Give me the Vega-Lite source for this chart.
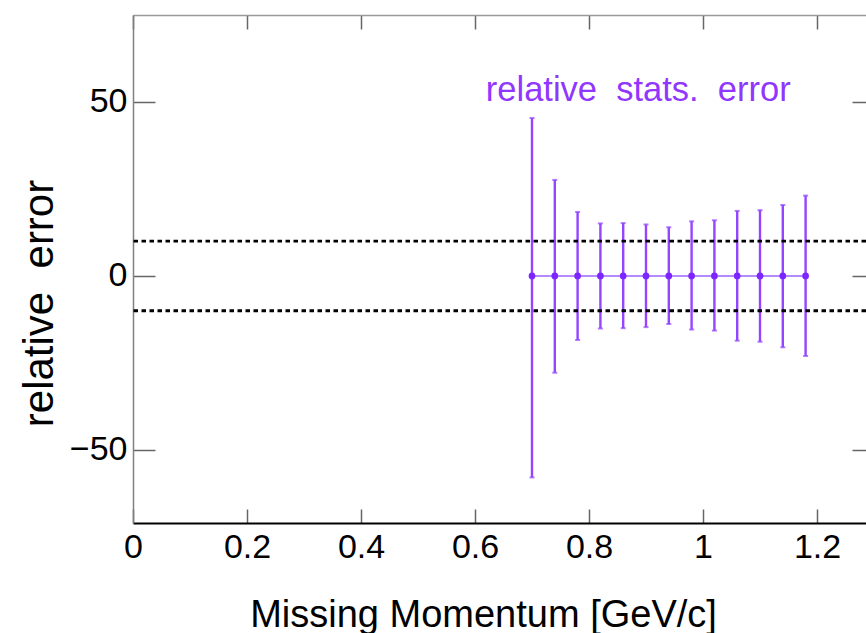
{
  "$schema": "https://vega.github.io/schema/vega-lite/v6.json",
  "width": 741,
  "height": 508,
  "autosize": {"type": "none"},
  "padding": {"left": 133, "top": 15, "right": 0, "bottom": 110},
  "background": "white",
  "config": {
    "view": {"stroke": null},
    "axis": {"grid": false, "labelFont": "Liberation Sans", "titleFont": "Liberation Sans", "labelColor": "black", "titleColor": "black", "titleFontWeight": "normal"}
  },
  "datasets": {
    "pts": [
      {"p": 0.70, "v": 0, "lo": -57.9, "hi": 45.4},
      {"p": 0.74, "v": 0, "lo": -27.8, "hi": 27.6},
      {"p": 0.78, "v": 0, "lo": -18.4, "hi": 18.4},
      {"p": 0.82, "v": 0, "lo": -15.1, "hi": 15.1},
      {"p": 0.86, "v": 0, "lo": -15.0, "hi": 15.2},
      {"p": 0.90, "v": 0, "lo": -14.7, "hi": 14.8},
      {"p": 0.94, "v": 0, "lo": -13.8, "hi": 14.0},
      {"p": 0.98, "v": 0, "lo": -15.4, "hi": 15.7},
      {"p": 1.02, "v": 0, "lo": -15.7, "hi": 16.0},
      {"p": 1.06, "v": 0, "lo": -18.6, "hi": 18.7},
      {"p": 1.10, "v": 0, "lo": -18.9, "hi": 18.9},
      {"p": 1.14, "v": 0, "lo": -20.5, "hi": 20.4},
      {"p": 1.18, "v": 0, "lo": -23.0, "hi": 23.1}
    ],
    "lims": [{"y": 10}, {"y": -10}],
    "lbl": [{"x": 0.619, "y": 50.3, "t": "relative\u00a0 stats.\u00a0 error"}]
  },
  "resolve": {"axis": {"x": "independent", "y": "independent"}},
  "layer": [
    {
      "data": {"name": "pts"},
      "mark": {"type": "line", "color": "#b48aff", "strokeWidth": 2},
      "encoding": {
        "x": {"field": "p", "type": "quantitative", "scale": {"domain": [0, 1.3], "nice": false, "zero": false}, "axis": null},
        "y": {"field": "v", "type": "quantitative", "scale": {"domain": [-71, 75], "nice": false, "zero": false}, "axis": null}
      }
    },
    {
      "data": {"name": "pts"},
      "mark": {"type": "rule", "color": "#9445ff", "strokeWidth": 2.4},
      "encoding": {
        "x": {"field": "p", "type": "quantitative", "scale": {"domain": [0, 1.3], "nice": false, "zero": false},
          "axis": {"orient": "bottom", "values": [0, 0.2, 0.4, 0.6, 0.8, 1, 1.2], "labelExpr": "'' + datum.value", "labelFlush": false, "labelFontSize": 34, "labelPadding": 21, "tickSize": -14, "tickColor": "#666666", "tickWidth": 1.5, "domainColor": "black", "domainWidth": 2, "title": "Missing Momentum [GeV/c]", "titleFontSize": 38, "titleX": 350, "titleY": 103, "titleBaseline": "alphabetic", "titleAnchor": null, "titleAlign": "center"}},
        "y": {"field": "lo", "type": "quantitative", "scale": {"domain": [-71, 75], "nice": false, "zero": false},
          "axis": {"orient": "left", "values": [-50, 0, 50], "labelExpr": "datum.value < 0 ? '\u2212' + abs(datum.value) : '' + datum.value", "labelFlush": false, "labelFontSize": 34, "labelPadding": 28, "tickSize": -22, "tickColor": "#666666", "tickWidth": 1.5, "domainColor": "#808080", "domainWidth": 1.5, "title": "relative\u00a0 error", "titleFontSize": 42, "titleAngle": -90, "titleX": -81, "titleY": 288, "titleBaseline": "alphabetic", "titleAlign": "center"}},
        "y2": {"field": "hi"}
      }
    },
    {
      "data": {"name": "pts"},
      "mark": {"type": "tick", "orient": "horizontal", "color": "#9445ff", "size": 5, "thickness": 2},
      "encoding": {
        "x": {"field": "p", "type": "quantitative", "scale": {"domain": [0, 1.3], "nice": false, "zero": false}, "axis": null},
        "y": {"field": "lo", "type": "quantitative", "scale": {"domain": [-71, 75], "nice": false, "zero": false}, "axis": null}
      }
    },
    {
      "data": {"name": "pts"},
      "mark": {"type": "tick", "orient": "horizontal", "color": "#9445ff", "size": 5, "thickness": 2},
      "encoding": {
        "x": {"field": "p", "type": "quantitative", "scale": {"domain": [0, 1.3], "nice": false, "zero": false}, "axis": null},
        "y": {"field": "hi", "type": "quantitative", "scale": {"domain": [-71, 75], "nice": false, "zero": false}, "axis": null}
      }
    },
    {
      "data": {"name": "pts"},
      "mark": {"type": "point", "filled": true, "shape": "circle", "size": 45, "color": "#7d25ff", "opacity": 1},
      "encoding": {
        "x": {"field": "p", "type": "quantitative", "scale": {"domain": [0, 1.3], "nice": false, "zero": false},
          "axis": {"orient": "top", "values": [0, 0.2, 0.4, 0.6, 0.8, 1, 1.2], "labels": false, "title": null, "tickSize": -14, "tickColor": "#666666", "tickWidth": 1.5, "domainColor": "#999999", "domainWidth": 1.5}},
        "y": {"field": "v", "type": "quantitative", "scale": {"domain": [-71, 75], "nice": false, "zero": false},
          "axis": {"orient": "right", "values": [-50, 0, 50], "labels": false, "title": null, "tickSize": -22, "tickColor": "#666666", "tickWidth": 1.5, "domainColor": "#808080", "domainWidth": 1.5}}
      }
    },
    {
      "data": {"name": "lims"},
      "mark": {"type": "rule", "color": "black", "strokeWidth": 2.8, "strokeDash": [4.5, 3.5]},
      "encoding": {
        "y": {"field": "y", "type": "quantitative", "scale": {"domain": [-71, 75], "nice": false, "zero": false}, "axis": null}
      }
    },
    {
      "data": {"name": "lbl"},
      "mark": {"type": "text", "align": "left", "baseline": "alphabetic", "font": "Liberation Sans", "fontSize": 34.5, "color": "#9036ff"},
      "encoding": {
        "x": {"field": "x", "type": "quantitative", "scale": {"domain": [0, 1.3], "nice": false, "zero": false}, "axis": null},
        "y": {"field": "y", "type": "quantitative", "scale": {"domain": [-71, 75], "nice": false, "zero": false}, "axis": null},
        "text": {"field": "t"}
      }
    }
  ]
}
